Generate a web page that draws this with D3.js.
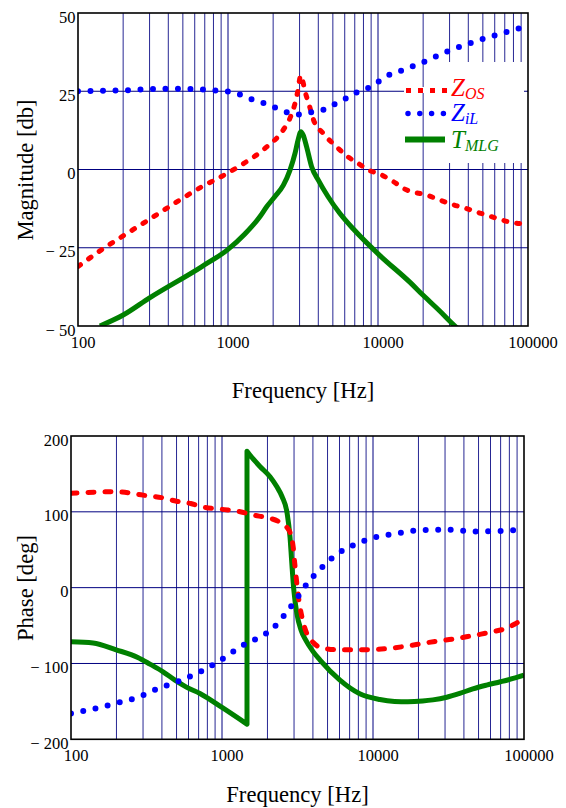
<!DOCTYPE html>
<html><head><meta charset="utf-8">
<script src="https://cdn.jsdelivr.net/npm/d3@7"></script>
<style>
html,body{margin:0;padding:0;background:#fff;}
svg{display:block;}
svg text{font-family:"Liberation Serif","Times New Roman",Times,serif;}
</style></head>
<body>
<svg id="chart" width="566" height="808"></svg>
<script>
// ---------- data ----------
const xTickValues = [100, 1000, 10000, 100000];
const xTickLabels = ["100", "1000", "10000", "100000"];
const magTicks = [50, 25, 0, -25, -50];
const magTickLabels = ["50", "25", "0", "\u2212 25", "\u2212 50"];
const phaseTicks = [200, 100, 0, -100, -200];
const phaseTickLabels = ["200", "100", "0", "\u2212 100", "\u2212 200"];

// Magnitude (dB)
const zOsMagF = [100,140,200,300,450,670,900,1260,1770,2330,2590,2800,2930,3050,3290,3500,3720,4300,5280,6200,7350,8660,10300,12600,15000,21500,25700,31000,39000,47700,60000,75700,100000];
const zOsMag  = [-31,-26,-21.2,-15.9,-10.5,-5.5,-2.3,1.8,6.8,12.6,16.4,21.2,25.4,30,24.3,20.1,15.8,11.6,7.3,4.3,2.0,-0.2,-1.5,-3.8,-6.2,-8.3,-9.7,-11.1,-12.5,-13.9,-15.4,-16.8,-17.5];

const ziLMagF = [100,200,400,700,870,1050,1220,1420,1660,1900,2220,2540,3020,3690,4290,4920,5560,6700,7300,8580,10000,11400,12900,20000,30000,50000,70000,100000];
const ziLMag  = [25,25.3,25.8,25.5,25.1,24.8,23.8,22.5,21.6,20.3,19.3,18.1,17.6,18.4,19,20.3,21.9,23.5,24.8,26,28,29.9,30.8,34.3,38,41.7,43.8,45.9];

const tMagF = [140,200,300,670,1000,1300,1630,1810,2050,2340,2590,2800,2930,3060,3170,3340,3610,4000,4650,5560,7000,10300,16300,20000,25800,32600,45000];
const tMag  = [-50,-46.5,-41,-31,-25.5,-20.5,-15.1,-11.9,-8.7,-5,-0.2,5.2,9.4,12.1,11,7.3,0.9,-3.4,-8.7,-14,-19.5,-27.5,-36,-40.2,-45.2,-50,-55];

// Phase (deg)
const zOsPhF = [100,200,300,400,500,620,734,1000,1320,1600,1985,2380,2770,2960,3030,3130,3230,3380,3640,4000,4500,6000,9000,12970,16800,22600,27700,33400,41500,51000,62000,76000,87000,100000];
const zOsPh  = [124.4,126.5,122,118.6,114,111,106.7,103.3,100.1,95.8,92.3,87,76,54,32.5,5.7,-16.4,-38.4,-60.3,-72,-79,-82,-82,-80,-77,-72.7,-70,-68,-64.8,-61.6,-58.2,-53.7,-48,-40.5];

const ziLPhF = [100,140,199,277,383,527,682,971,1238,1463,1730,2170,2620,3130,3700,4570,5660,7480,10100,14600,21300,30800,45900,68000,100000];
const ziLPh  = [-166,-160,-152.5,-144.7,-132.5,-122.8,-113,-96,-82,-73,-66.5,-53.7,-34.8,-14.1,6.5,26.2,43,56.2,65.9,71.6,76,76.5,74.2,74.7,76.5];

const tPhLowF = [100,140,199,277,333,407,488,585,714,1000,1464];
const tPhLow  = [-71.4,-73,-82,-92,-100.8,-111,-122,-131.5,-139.5,-158,-180];
const tPhHighF = [1464,1530,1790,2080,2310,2500,2700,2820,2900,2990,3130,3340,3580,4000,4460,6040,8170,11100,13900,17000,21300,24900,30800,37500,45800,56500,69800,84800,100000];
const tPhHigh  = [180,175,159.5,146.3,133,119.9,98,67.2,32,-3,-33.9,-56,-69,-84,-95.5,-122,-140,-147.5,-150,-150.5,-149.5,-148,-144.5,-139.5,-133.5,-128.5,-124.1,-119.7,-115.3];

const legendLabels = [["Z","OS"],["Z","iL"],["T","MLG"]];

// ---------- drawing ----------
const svg = d3.select("#chart");
const RED = "#ff0000", BLUE = "#0000ff", GREEN = "#008000", GRID = "#000080";
const SERIF = '"Liberation Serif","Times New Roman",Times,serif';

function minorTicks(){
  const t = [];
  for (let d = 100; d < 100000; d *= 10) for (let k = 1; k < 10; k++) t.push(d*k);
  t.push(100000);
  return t;
}

function panel(cfg){
  const g = svg.append("g");
  const x = d3.scaleLog().domain([100,100000]).range([cfg.x0, cfg.x1]);
  const y = d3.scaleLinear().domain(cfg.yDomain).range([cfg.y1, cfg.y0]);
  const clipId = "clip" + cfg.id;
  svg.append("clipPath").attr("id", clipId).append("rect")
    .attr("x", cfg.x0).attr("y", cfg.y0).attr("width", cfg.x1-cfg.x0).attr("height", cfg.y1-cfg.y0);

  const grid = g.append("g").attr("stroke", GRID).attr("fill","none");
  minorTicks().filter(v => v > 100 && v < 100000).forEach(v => {
    const major = Math.abs(Math.log10(v) - Math.round(Math.log10(v))) < 1e-9;
    grid.append("line").attr("x1", x(v)).attr("x2", x(v)).attr("y1", cfg.y0).attr("y2", cfg.y1)
      .attr("stroke-width", 1).attr("stroke-opacity", major ? 1 : 0.85);
  });
  cfg.yTicks.forEach(v => {
    if (v === cfg.yDomain[0] || v === cfg.yDomain[1]) return;
    grid.append("line").attr("x1", cfg.x0).attr("x2", cfg.x1).attr("y1", y(v)).attr("y2", y(v))
      .attr("stroke-width", 1);
  });

  const xAxis = d3.axisBottom(x).tickValues(cfg.xTickValues).tickSize(0)
    .tickFormat((d,i) => cfg.xTickLabels[i]);
  const xa = g.append("g").attr("transform", `translate(4.5,${cfg.y1})`).call(xAxis)
    .attr("font-family", SERIF);
  xa.select(".domain").remove();
  xa.selectAll("text").attr("font-size", 16.5).style("font-family", SERIF).attr("fill","#000")
    .attr("dy", null).attr("y", cfg.xLabelDy);

  const yAxis = d3.axisLeft(y).tickValues(cfg.yTicks).tickSize(0)
    .tickFormat((d,i) => cfg.yTickLabels[i]);
  const ya = g.append("g").attr("transform", `translate(${cfg.x0-2.5},0)`).call(yAxis)
    .attr("font-family", SERIF);
  ya.select(".domain").remove();
  ya.selectAll("text").attr("font-size", 16.5).style("font-family", SERIF).attr("fill","#000")
    .attr("x", 0).attr("dy", null).attr("y", 9);

  g.append("text").attr("x", (cfg.x0+cfg.x1)/2).attr("y", cfg.xTitleY).attr("text-anchor","middle")
    .attr("font-size", 22.6).attr("fill","#000").text("Frequency [Hz]");
  g.append("text").attr("transform", `translate(${cfg.yTitleX},${cfg.yTitleY}) rotate(-90)`)
    .attr("text-anchor","middle").attr("font-size", 22.6).attr("fill","#000").text(cfg.yTitle);

  return {g, x, y, clipId};
}

function drawSeries(p, fs, vs, style, fs2, vs2){
  const line = d3.line().x(d => p.x(d[0])).y(d => p.y(d[1])).curve(d3.curveMonotoneX);
  let dstr = line(d3.zip(fs, vs));
  if (fs2) dstr += line(d3.zip(fs2, vs2)).replace(/^M/, "L");
  const path = p.g.append("path").attr("d", dstr).attr("fill","none")
    .attr("clip-path", `url(#${p.clipId})`)
    .attr("stroke", style.color).attr("stroke-width", style.width)
    .attr("stroke-linecap", style.cap || "butt").attr("stroke-linejoin","round");
  if (style.dash) path.attr("stroke-dasharray", style.dash);
}

function border(p, cfg){
  p.g.append("rect").attr("x", cfg.x0).attr("y", cfg.y0).attr("width", cfg.x1-cfg.x0).attr("height", cfg.y1-cfg.y0)
    .attr("fill","none").attr("stroke","#000").attr("stroke-width",1.6);
}

// ---- top panel: magnitude ----
const topCfg = {id:"top", x0:78, x1:528, y0:13, y1:326, yDomain:[-50,50],
  yTicks: magTicks, yTickLabels: magTickLabels, xTickValues, xTickLabels, xLabelDy: 22,
  xTitleY: 398, yTitle: "Magnitude [db]", yTitleX: 33, yTitleY: 170};
const topP = panel(topCfg);

topP.g.append("rect").attr("x", 447).attr("y", 62).attr("width", 80).attr("height", 101).attr("fill","#fff");
topP.g.append("rect").attr("x", 404).attr("y", 87).attr("width", 122).attr("height", 6).attr("fill","#fff");
topP.g.append("line").attr("x1", 524).attr("x2", 528).attr("y1", topP.y(25)).attr("y2", topP.y(25))
  .attr("stroke", GRID).attr("stroke-width", 1);

drawSeries(topP, tMagF, tMag, {color: GREEN, width: 5});
drawSeries(topP, zOsMagF, zOsMag, {color: RED, width: 5, dash: "3 10", cap: "round"});
drawSeries(topP, ziLMagF, ziLMag, {color: BLUE, width: 6, dash: "0 12.5", cap: "round"});

const lg = topP.g.append("g");
lg.append("line").attr("x1", 406).attr("x2", 447).attr("y1", 90.5).attr("y2", 90.5)
  .attr("stroke", RED).attr("stroke-width", 5).attr("stroke-dasharray", "5 7");
lg.append("line").attr("x1", 408).attr("x2", 444).attr("y1", 113.5).attr("y2", 113.5)
  .attr("stroke", BLUE).attr("stroke-width", 5.5).attr("stroke-linecap","round").attr("stroke-dasharray", "0 11.8");
lg.append("line").attr("x1", 405).attr("x2", 445).attr("y1", 139.5).attr("y2", 139.5)
  .attr("stroke", GREEN).attr("stroke-width", 6);
const legColors = [RED, BLUE, GREEN];
const legY = [96, 121, 148];
legendLabels.forEach((lab, i) => {
  const t = lg.append("text").attr("x", 451).attr("y", legY[i]).attr("fill", legColors[i])
    .attr("font-style","italic").attr("font-size", 25);
  t.append("tspan").text(lab[0]);
  t.append("tspan").attr("font-size", 16).attr("dy", 3).text(lab[1]);
});
border(topP, topCfg);

// ---- bottom panel: phase ----
const botCfg = {id:"bot", x0:71, x1:524, y0:436, y1:739.3, yDomain:[-200,200],
  yTicks: phaseTicks, yTickLabels: phaseTickLabels, xTickValues, xTickLabels, xLabelDy: 22,
  xTitleY: 802, yTitle: "Phase [deg]", yTitleX: 33, yTitleY: 588};
const botP = panel(botCfg);
drawSeries(botP, tPhLowF, tPhLow, {color: GREEN, width: 5}, tPhHighF, tPhHigh);
drawSeries(botP, zOsPhF, zOsPh, {color: RED, width: 5, dash: "6 11", cap: "round"});
drawSeries(botP, ziLPhF, ziLPh, {color: BLUE, width: 6, dash: "0 12.5", cap: "round"});
border(botP, botCfg);
</script>
</body></html>
